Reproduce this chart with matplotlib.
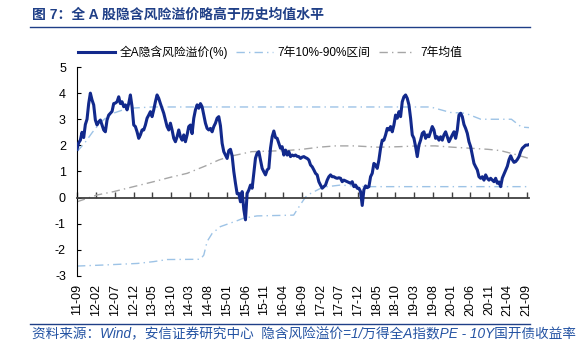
import matplotlib
matplotlib.use('Agg')
import matplotlib.pyplot as plt
import matplotlib.dates as mdates
from matplotlib.lines import Line2D
import pandas as pd

plt.rcParams['font.family'] = ['Liberation Sans', 'Noto Sans CJK SC']
plt.rcParams['axes.unicode_minus'] = False

# 全A隐含风险溢价(%), roughly bi-weekly from 2011-09 to 2021-09
premium_start = '2011-08-29'
premium_end = '2021-09-21'
premium = [
    1.85, 2.1, 2.2, 2.5, 2.3, 2.8, 3.0, 3.6, 4.0, 3.74,
    3.55, 2.97, 2.78, 2.9, 2.97, 2.78, 2.59, 2.52, 2.97, 3.16,
    3.23, 3.3, 3.6, 3.62, 3.67, 3.86, 3.6, 3.67, 3.48, 3.55,
    3.36, 3.6, 3.93, 3.48, 2.78, 2.72, 2.52, 2.27, 2.4, 2.59,
    2.59, 2.78, 3.04, 3.16, 3.29, 3.1, 3.36, 3.67, 3.93, 3.8,
    3.6, 3.42, 3.23, 2.97, 2.72, 2.59, 2.85, 2.59, 2.27, 2.14,
    2.33, 2.59, 2.33, 2.2, 2.4, 2.14,
    2.4, 2.72, 2.78, 2.45, 3.04, 3.36, 3.55, 3.42, 3.6, 3.48,
    3.16, 2.85, 2.65, 2.59, 2.65, 2.52, 2.72, 2.85, 3.04, 3.1,
    2.75, 2.08, 1.76, 1.63, 1.5, 1.8, 1.85, 1.6, 1.0, 0.55,
    0.15, 0.16, -0.16, 0.23, -0.45, -0.85, 0.16, 0.29, 0.48, 0.36,
    0.93, 1.51, 1.7, 1.76, 1.44, 1.12, 0.99, 0.87, 1.06, 1.12,
    1.89, 2.33, 2.55, 2.3, 2.27, 2.08, 1.89, 1.95, 1.63, 1.82,
    1.63, 1.76, 1.57, 1.63, 1.6, 1.63, 1.58, 1.57, 1.5,
    1.55, 1.57, 1.53, 1.5, 1.44, 1.25, 1.18, 1.06, 0.93, 0.87,
    0.61, 0.48, 0.36, 0.42, 0.48, 0.67, 0.8, 0.87, 0.8, 0.8,
    0.76, 0.74, 0.76, 0.74, 0.61, 0.67, 0.64, 0.61, 0.58, 0.55,
    0.61, 0.42, 0.48, 0.36, 0.36, 0.23, -0.3, 0.3, 0.45, 0.38,
    0.42, 0.8, 0.93, 1.31, 1.25, 1.12, 1.44, 1.89, 2.2, 2.2,
    2.4, 2.65, 2.59, 2.72, 2.52, 2.78, 3.16, 3.04, 3.29, 3.1,
    3.67, 3.86, 3.93, 3.8, 3.55, 3.04, 2.4, 2.27, 1.95, 1.57,
    2.01, 2.2, 2.46, 2.52, 2.27, 2.4, 2.33, 2.52, 2.72, 2.59,
    2.27, 2.33, 2.2, 2.33, 2.2, 2.4, 2.52, 2.33, 2.14, 2.27,
    2.4, 2.52, 2.27, 2.59, 3.16, 3.23, 3.1, 2.8, 2.65, 2.46,
    2.14, 1.95, 1.63, 1.31, 1.18, 1.06, 0.8, 0.74, 0.8, 0.67,
    0.87, 0.74, 0.67, 0.74, 0.67, 0.61, 0.74, 0.55, 0.6, 0.42,
    0.75, 0.9, 1.05, 1.2, 1.45, 1.6, 1.45, 1.35, 1.38, 1.46,
    1.57, 1.76, 1.89, 1.95, 2.01, 2.01, 2.03,
]

# 7年90%分位
hi_dates = ['2011-08-29', '2011-11-01', '2012-01-01', '2012-03-01', '2012-05-01',
            '2012-07-01', '2012-09-01', '2012-12-01', '2013-05-01', '2019-07-13',
            '2019-12-22', '2020-04-22', '2020-08-25', '2021-05-01', '2021-07-22',
            '2021-09-21']
hi_vals = [1.76, 2.1, 2.5, 2.85, 3.1, 3.25, 3.35, 3.43, 3.47, 3.47,
           3.26, 3.23, 3.0, 3.0, 2.7, 2.68]

# 7年10%分位
lo_dates = ['2011-08-29', '2012-04-01', '2013-01-01', '2013-05-13', '2013-09-01',
            '2014-05-28', '2014-06-25', '2014-07-22', '2014-09-01', '2014-11-07',
            '2015-03-25', '2015-05-12', '2015-09-01', '2016-06-25', '2016-07-22',
            '2016-09-03', '2016-10-01', '2016-11-10', '2017-02-01', '2017-03-25',
            '2017-07-10', '2018-02-01', '2021-09-21']
lo_vals = [-2.62, -2.58, -2.52, -2.45, -2.37,
           -2.36, -2.2, -1.68, -1.37, -1.11,
           -0.88, -0.79, -0.7, -0.67, -0.47,
           -0.16, 0.03, 0.16, 0.36, 0.42,
           0.48, 0.42, 0.42]

# 7年均值
mean_dates = ['2011-08-29', '2012-02-07', '2012-06-22', '2012-12-01', '2013-05-13',
              '2013-09-28', '2014-02-10', '2014-07-07', '2014-10-25', '2015-01-15',
              '2015-07-20', '2016-04-18', '2016-09-03', '2017-01-15', '2017-06-01',
              '2017-11-01', '2018-05-15', '2018-11-01', '2019-04-01', '2019-08-20',
              '2020-01-10', '2020-06-01', '2020-10-20', '2021-02-01', '2021-05-20',
              '2021-09-21']
mean_vals = [-0.16, 0.1, 0.23, 0.42, 0.61, 0.78, 0.93, 1.21, 1.44, 1.57,
             1.76, 1.8, 1.85, 1.93, 1.98, 1.98, 1.93, 1.95, 1.98, 1.98,
             1.93, 1.89, 1.85, 1.8, 1.67, 1.5]

tick_dates = pd.date_range('2011-09-01', '2021-09-01', freq='5MS')

x = mdates.date2num(pd.date_range(premium_start, premium_end, periods=len(premium)))
ticks = mdates.date2num(tick_dates)
tick_labels = list(tick_dates.strftime('%y-%m'))

fig = plt.figure(figsize=(5.83, 3.51), dpi=100)
ax = fig.add_axes([0.1321, 0.2137, 0.7753, 0.5954])

band_col = '#9DC3E6'
ax.plot(x, premium, color='#12298C', lw=2.2, label='全A隐含风险溢价(%)', zorder=4)
ax.plot(mdates.date2num(pd.to_datetime(hi_dates)), hi_vals, color=band_col, lw=1,
        dashes=(6, 3, 1, 3), label='7年10%-90%区间', zorder=2)
ax.plot(mdates.date2num(pd.to_datetime(lo_dates)), lo_vals, color=band_col, lw=1,
        dashes=(6, 3, 1, 3), zorder=2)
ax.plot(mdates.date2num(pd.to_datetime(mean_dates)), mean_vals, color='#A6A6A6', lw=1,
        dashes=(6, 3, 1, 3), label='7年均值', zorder=2)

ax.set_xlim(x[0], x[-1])
ax.set_ylim(-3, 5)
ax.set_yticks(range(-3, 6))

for s in ['top', 'right']:
    ax.spines[s].set_visible(False)
ax.spines['left'].set_color('black')
ax.spines['bottom'].set_position(('data', 0))
ax.spines['bottom'].set_color('#404040')
ax.spines['bottom'].set_linewidth(1.3)
ax.spines['bottom'].set_zorder(3)

ax.set_xticks(ticks)
ax.tick_params(axis='x', direction='in', length=4, width=1, color='#404040', labelbottom=False)
ax.tick_params(axis='y', direction='in', length=3, labelsize=9, pad=8)

sec = ax.secondary_xaxis('bottom')
sec.set_xticks(ticks, labels=tick_labels)
sec.tick_params(length=0, pad=6, labelrotation=90, labelsize=9)
sec.spines['bottom'].set_visible(False)

ax.legend(ncol=3, loc='center left', bbox_to_anchor=(78 / 583, 1 - 52 / 351),
          bbox_transform=fig.transFigure, frameon=False, fontsize=8.5,
          handlelength=3.1, handletextpad=0.4, columnspacing=0.7,
          borderpad=0, borderaxespad=0)

title_col = '#1F3F87'
fig.text(32 / 583, 1 - 15 / 351, '图 7：全 A 股隐含风险溢价略高于历史均值水平',
         fontsize=10, fontweight='bold', color=title_col, va='center', ha='left')
fig.add_artist(Line2D([30 / 583, 530 / 583], [1 - 27 / 351] * 2, color=title_col, lw=1))
fig.add_artist(Line2D([30 / 583, 530 / 583], [1 - 324 / 351] * 2, color=title_col, lw=1))
fig.text(32 / 583, 1 - 334 / 351,
         '资料来源：Wind，安信证券研究中心  隐含风险溢价=1/万得全A指数PE - 10Y国开债收益率',
         fontsize=9.8, style='italic', color='#2453A3', va='center', ha='left')

fig.savefig('out.png', dpi=100)
